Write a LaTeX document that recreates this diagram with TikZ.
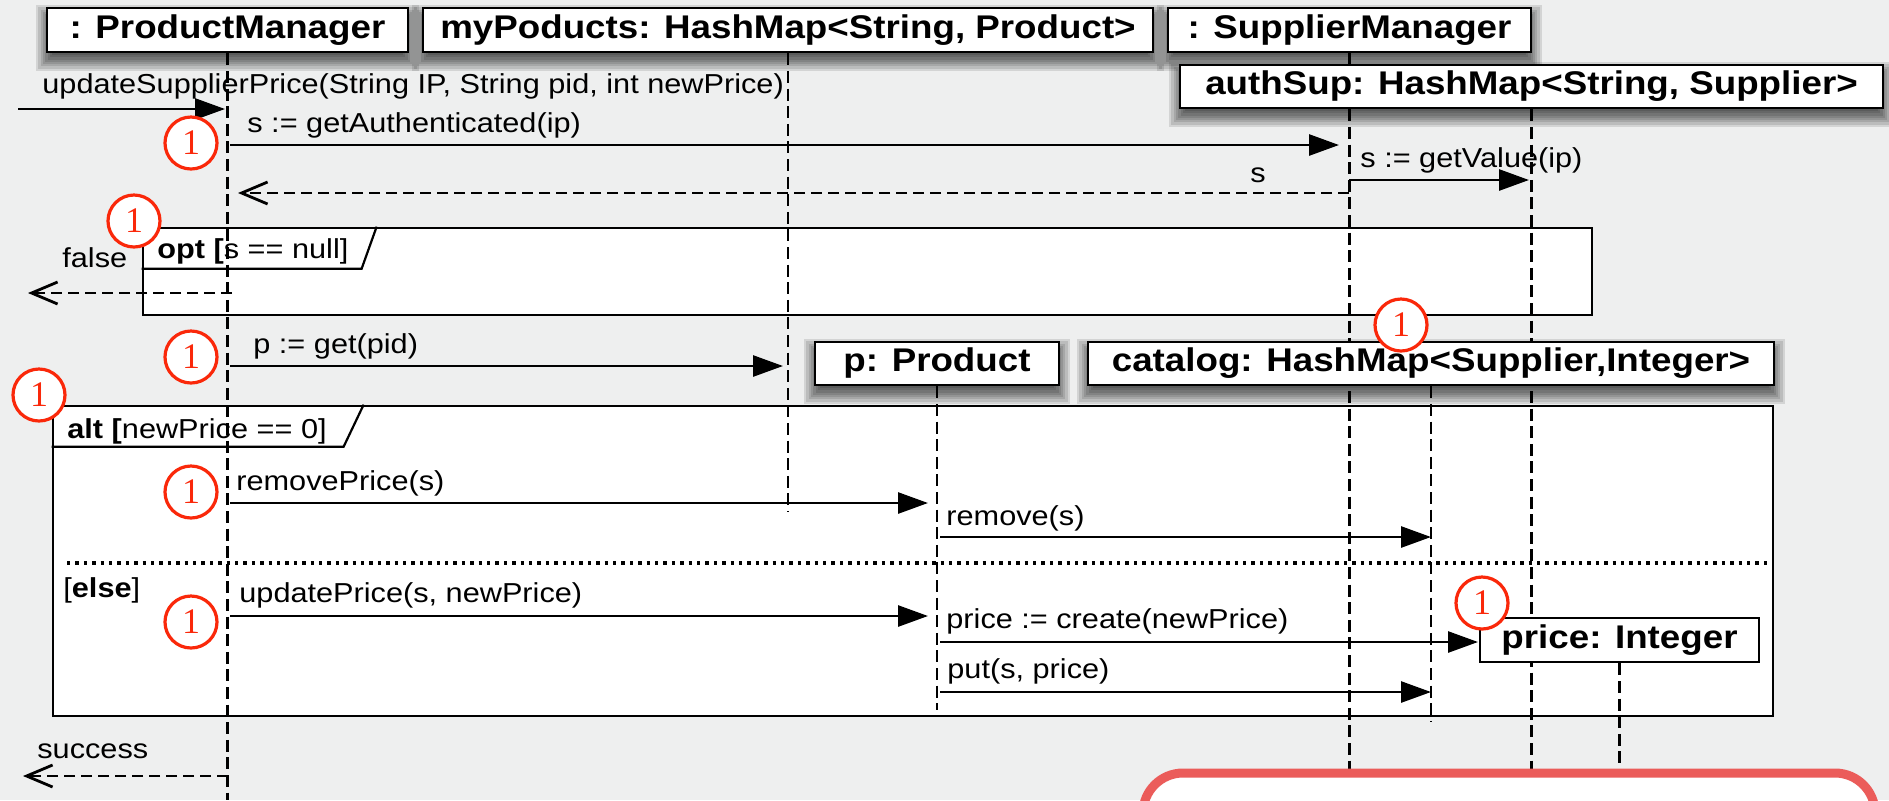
\documentclass[tikz,border=0pt]{standalone}
\usepackage{fontspec}
\usepackage{graphicx}
\setmainfont{Liberation Sans}
\newfontfamily\serifone{Liberation Serif}
\usetikzlibrary{arrows.meta}
\pgfdeclarelayer{back}
\pgfdeclarelayer{mid}
\pgfsetlayers{back,mid,main}
\definecolor{bgc}{RGB}{238,239,239}
\definecolor{cred}{RGB}{250,40,10}
\definecolor{boxred}{RGB}{235,92,90}
\newcommand{\sx}[1]{\scalebox{1.12}[1]{#1}}
\newcommand{\msgfont}{\fontsize{13.7}{16}\selectfont}
\newcommand{\headfont}{\fontsize{16.4}{19}\selectfont\bfseries}
\newcommand{\hshadow}[4]{%
  \foreach \k in {0,...,9}{%
    \pgfmathsetmacro\dd{11-2.3*\k}%
    \fill[black,opacity=0.11] ({#1-\dd},{#2+8-\dd}) rectangle ({#3+\dd},{#4+8+\dd});
  }}
\begin{document}
\begin{tikzpicture}[x=0.5pt,y=-0.5pt,
  head/.style={draw=black, fill=white, line width=1.4pt, inner sep=0pt, font=\headfont},
  life/.style={line width=1.4pt, dash pattern=on 6pt off 2.8pt},
  msgarr/.style={line width=1.35pt, -{Triangle[length=15pt,width=10.5pt]}},
  retarr/.style={line width=1.4pt, dash pattern=on 5.5pt off 3pt, -{Straight Barb[length=13pt,width=11pt]}},
  fragbox/.style={draw=black, fill=white, line width=1.35pt, inner sep=0pt},
  tabline/.style={line width=1.1pt},
  sepline/.style={line width=1.6pt, dash pattern=on 1.7pt off 2.5pt},
  lbl/.style={anchor=base west, inner sep=0pt, font=\msgfont},
  num/.style={circle, draw=cred, fill=white, line width=1.6pt, minimum size=26pt, inner sep=0pt, text=cred, font=\serifone\fontsize{18}{20}\selectfont},
  notebox/.style={draw=boxred, fill=white, line width=4.5pt, rounded corners=20pt, inner sep=0pt}
]
\useasboundingbox (0,0) rectangle (1889,800);
\clip (0,0) rectangle (1889,800);

% ---------- background layer ----------
\begin{pgfonlayer}{back}
  \fill[bgc] (0,0) rectangle (1889,800);
  \hshadow{47}{8}{408}{52}
  \hshadow{423}{8}{1153}{52}
  \hshadow{1168}{8}{1531}{52}
  \hshadow{1180}{65}{1883}{108}
  \hshadow{815}{342}{1059}{385}
  \hshadow{1088}{342}{1774}{385}
  % combined fragments
  \node[fragbox, minimum width=724.5pt, minimum height=43.5pt] (opt) at (867.5,271.5) {};
  \draw[tabline] (opt.north west) ++(235,0) -- ++(-15,42) -- ++(-220,0);
  \node[fragbox, minimum width=860pt, minimum height=155pt] (alt) at (913,561) {};
  \draw[tabline] (alt.north west) ++(312,0) -- ++(-20,42) -- ++(-292,0);
  \draw[sepline] (67,563) -- (1773,563);
\end{pgfonlayer}

% ---------- heads ----------
\node[head, minimum width=180.5pt, minimum height=22pt] (pm) at (227.5,30) {\sx{: ProductManager}};
\node[head, minimum width=365pt, minimum height=22pt] (mp) at (788,30) {\sx{myPoducts: HashMap<String, Product>}};
\node[head, minimum width=181.5pt, minimum height=22pt] (sm) at (1349.5,30) {\sx{: SupplierManager}};
\node[head, minimum width=351.5pt, minimum height=21.5pt] (as) at (1531.5,86.5) {\sx{authSup: HashMap<String, Supplier>}};
\node[head, minimum width=122pt, minimum height=21.5pt] (pp) at (937,363.5) {\sx{p: Product}};
\node[head, minimum width=343pt, minimum height=21.5pt] (cat) at (1431,363.5) {\sx{catalog: HashMap<Supplier,Integer>}};
\node[head, minimum width=139.5pt, minimum height=22pt] (pr) at (1619.5,640) {\sx{price: Integer}};

% ---------- lifelines ----------
\coordinate (pmE) at (227.5,800);
\coordinate (mpE) at (788,512);
\coordinate (smE) at (1349.5,772);
\coordinate (asE) at (1531.5,772);
\coordinate (ppE) at (937,710);
\coordinate (catE) at (1431,722);
\coordinate (prE) at (1619.5,772);
\begin{pgfonlayer}{mid}
  \draw[life] (pm.south) -- (pmE);
  \draw[life] (mp.south) -- (mpE);
  \draw[line width=1.4pt] (sm.south) -- (sm.south |- as.north);
  \draw[life] (sm.south |- as.south) -- (smE);
  \draw[life] (as.south) -- (asE);
  \draw[life] (pp.south) -- (ppE);
  \draw[life] (cat.south) -- (catE);
  \draw[life] (pr.south) -- (prE);
\end{pgfonlayer}

% ---------- messages ----------
\coordinate (m1a) at (18,109);   \coordinate (m1b) at (225,109);
\coordinate (m2a) at (230,145);  \coordinate (m2b) at (1339,145);
\coordinate (m3a) at (1349,193); \coordinate (m3b) at (238,193);
\coordinate (m4a) at (1349,180); \coordinate (m4b) at (1529,180);
\coordinate (m5a) at (232,293);  \coordinate (m5b) at (28,293);
\coordinate (m6a) at (230,366);  \coordinate (m6b) at (783,366);
\coordinate (m7a) at (230,503);  \coordinate (m7b) at (928,503);
\coordinate (m8a) at (940,537);  \coordinate (m8b) at (1431,537);
\coordinate (m9a) at (230,616);  \coordinate (m9b) at (928,616);
\coordinate (m10a) at (940,642); \coordinate (m10b) at (1478,642);
\coordinate (m11a) at (940,692); \coordinate (m11b) at (1431,692);
\coordinate (m12a) at (228,776); \coordinate (m12b) at (23,776);

\draw[msgarr] (m1a) -- (m1b);
\draw[msgarr] (m2a) -- (m2b);
\draw[retarr] (m3a) -- (m3b);
\draw[msgarr] (m4a) -- (m4b);
\draw[retarr] (m5a) -- (m5b);
\draw[msgarr] (m6a) -- (m6b);
\draw[msgarr] (m7a) -- (m7b);
\draw[msgarr] (m8a) -- (m8b);
\draw[msgarr] (m9a) -- (m9b);
\draw[msgarr] (m10a) -- (m10b);
\draw[msgarr] (m11a) -- (m11b);
\draw[retarr] (m12a) -- (m12b);

% ---------- labels ----------
\node[lbl] (l1) at (42,93) {\sx{updateSupplierPrice(String IP, String pid, int newPrice)}};
\node[lbl] (l2) at (247,132) {\sx{s := getAuthenticated(ip)}};
\node[lbl] (l3) at (1250,182) {\sx{s}};
\node[lbl] (l4) at (1360,167) {\sx{s := getValue(ip)}};
\node[lbl] (l5) at (62,267) {\sx{false}};
\node[lbl] (l6) at (157,258) {\sx{\textbf{opt [}s == null]}};
\node[lbl] (l7) at (253,353) {\sx{p := get(pid)}};
\node[lbl] (l8) at (67,438) {\sx{\textbf{alt [}newPrice == 0]}};
\node[lbl] (l9) at (236,490) {\sx{removePrice(s)}};
\node[lbl] (l10) at (946,525) {\sx{remove(s)}};
\node[lbl] (l11) at (63,597) {\sx{[\textbf{else}]}};
\node[lbl] (l12) at (239,602) {\sx{updatePrice(s, newPrice)}};
\node[lbl] (l13) at (946,628) {\sx{price := create(newPrice)}};
\node[lbl] (l14) at (947,678) {\sx{put(s, price)}};
\node[lbl] (l15) at (37,758) {\sx{success}};

% ---------- numbered markers ----------
\node[num] (c1) at (191,143) {1};
\node[num] (c2) at (134,221) {1};
\node[num] (c3) at (191,357) {1};
\node[num] (c4) at (39,395) {1};
\node[num] (c5) at (191,492) {1};
\node[num] (c6) at (1401,325) {1};
\node[num] (c7) at (191,622) {1};
\node[num] (c8) at (1482,603) {1};

% ---------- note box ----------
\node[notebox, minimum width=366pt, minimum height=43.5pt] (note) at (1509,816.5) {};
\end{tikzpicture}
\end{document}
